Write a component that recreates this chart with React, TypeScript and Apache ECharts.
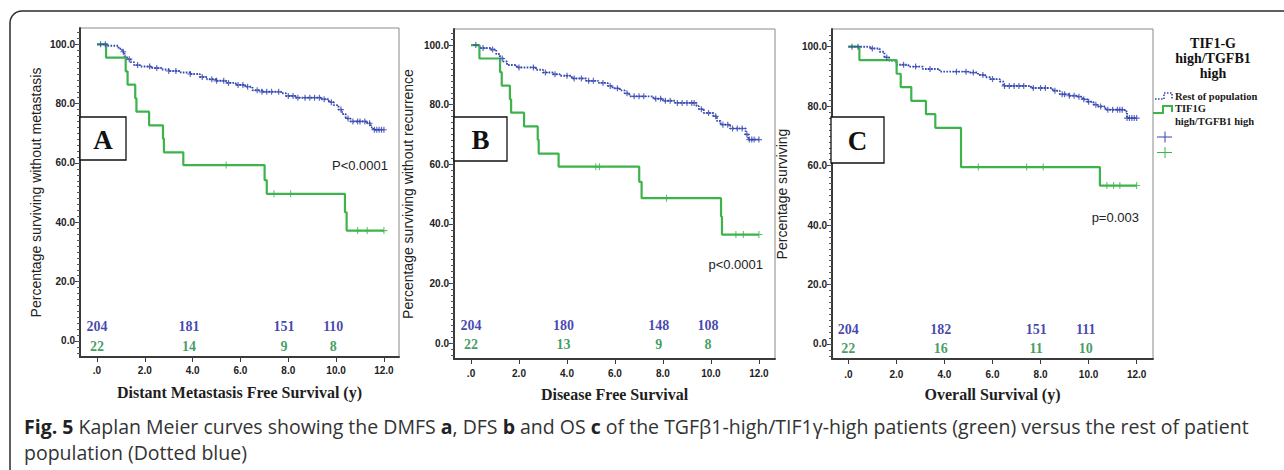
import React, { useEffect, useRef } from 'react';
import * as echarts from 'echarts';

type Pt = [number, number];

// ---------------- DATA ----------------
const timeTicks = [0, 2, 4, 6, 8, 10, 12];
const pctTicks = [0, 20, 40, 60, 80, 100];
const riskTimes = [0, 3.85, 7.82, 9.88];

// Panel A – Distant metastasis free survival
const dmfsRest: Pt[] = [
  [0, 100], [0.45, 99.5], [0.9, 98.5], [1.05, 97.5], [1.15, 96], [1.25, 95], [1.4, 94], [1.55, 93],
  [1.8, 92.5], [2.3, 92], [2.7, 91.5], [3.0, 91], [3.5, 90.5], [3.9, 90], [4.3, 89], [4.6, 88.2],
  [5.0, 87.7], [5.4, 87], [5.8, 86.3], [6.2, 85.7], [6.5, 84.5], [6.9, 84], [7.7, 83.5], [7.9, 82.6],
  [8.3, 82], [9.4, 81.5], [9.7, 80.5], [9.9, 79.5], [10.1, 78], [10.25, 76.5], [10.4, 75], [10.6, 74],
  [11.3, 73.4], [11.45, 72], [11.55, 71.2], [12.0, 71.2],
];
const dmfsHigh: Pt[] = [
  [0, 100], [0.38, 95.5], [1.2, 90.9], [1.28, 86.4], [1.6, 81.8], [1.65, 77.3], [2.18, 72.7],
  [2.76, 68.2], [2.8, 63.6], [3.61, 59.3], [7.01, 54.2], [7.1, 49.6], [10.37, 43.4], [10.44, 37.2], [12.0, 37.2],
];
const dmfsRestCensor = [0.15, 0.35, 1.1, 1.35, 1.7, 2.2, 2.5, 3.0, 3.3, 3.9, 4.4, 4.8, 5.0, 5.3, 5.5, 5.9, 6.1,
  6.3, 6.7, 6.9, 7.1, 7.3, 7.6, 8.0, 8.2, 8.4, 8.7, 8.9, 9.1, 9.3, 9.5, 9.8, 10.2, 10.5, 10.7, 10.9, 11.0,
  11.2, 11.4, 11.6, 11.7, 11.8, 11.9, 12.0];
const dmfsHighCensor = [5.4, 7.4, 8.1, 10.9, 11.3, 12.0];
const dmfsRiskRest = [204, 181, 151, 110];
const dmfsRiskHigh = [22, 14, 9, 8];

// Panel B – Disease free survival
const dfsRest: Pt[] = [
  [0, 100], [0.35, 99], [0.8, 98.5], [1.05, 97], [1.2, 95.5], [1.35, 94.5], [1.5, 93.3], [1.9, 92.5],
  [2.7, 91.7], [3.0, 90.8], [3.4, 90.2], [3.7, 89.7], [4.2, 88.8], [4.8, 88], [5.3, 87.3], [5.7, 86.3],
  [5.9, 85.5], [6.2, 84.8], [6.4, 83.8], [6.6, 82.8], [7.6, 82], [8.0, 81.3], [8.5, 80.6], [9.4, 79.5],
  [9.5, 78.5], [9.7, 77.2], [10.1, 76.1], [10.25, 74.5], [10.4, 73.3], [10.8, 72], [11.45, 70],
  [11.55, 68.3], [12.0, 68.3],
];
const dfsHigh: Pt[] = [
  [0, 100], [0.35, 95.5], [1.21, 90.9], [1.28, 86.4], [1.62, 81.8], [1.67, 77.3], [2.21, 72.7],
  [2.78, 68.2], [2.82, 63.6], [3.65, 59.2], [7.01, 54.1], [7.11, 48.6], [10.42, 42.5], [10.46, 36.4], [12.0, 36.4],
];
const dfsRestCensor = [0.2, 0.5, 0.9, 1.3, 2.0, 2.6, 3.1, 3.5, 4.0, 4.3, 4.6, 4.9, 5.1, 5.5, 5.8, 6.1, 6.5,
  6.8, 7.0, 7.2, 7.7, 7.9, 8.1, 8.3, 8.6, 8.8, 9.0, 9.2, 9.3, 9.6, 9.9, 10.2, 10.5, 10.7, 10.9, 11.1, 11.3,
  11.5, 11.6, 11.7, 11.8, 12.0];
const dfsHighCensor = [5.2, 5.35, 8.15, 11.04, 11.35, 12.0];
const dfsRiskRest = [204, 180, 148, 108];
const dfsRiskHigh = [22, 13, 9, 8];

// Panel C – Overall survival
const osRest: Pt[] = [
  [0, 100], [0.9, 99.4], [1.3, 98.3], [1.5, 96.4], [1.7, 95.3], [2.0, 93.9], [2.5, 93.3], [3.1, 92.5],
  [3.8, 91.6], [5.0, 91.3], [5.4, 90.5], [5.7, 89.7], [5.9, 89.1], [6.3, 88.3], [6.45, 86.8], [7.6, 86.1],
  [8.5, 85.2], [8.8, 84], [9.2, 83.5], [9.5, 83.2], [9.75, 82.3], [9.95, 81.5], [10.2, 80.5], [10.35, 79.9],
  [10.7, 78.8], [11.5, 78.2], [11.6, 76], [12.0, 76],
];
const osHigh: Pt[] = [
  [0, 100], [0.46, 95.5], [2.01, 90.9], [2.18, 86.4], [2.62, 81.8], [3.23, 77.3], [3.62, 72.7],
  [4.69, 59.5], [10.47, 53.3], [12.0, 53.3],
];
const osRestCensor = [0.15, 0.4, 1.0, 1.6, 2.3, 2.8, 3.4, 4.5, 4.9, 5.2, 5.6, 6.0, 6.5, 6.7, 6.9, 7.1, 7.3,
  7.7, 8.0, 8.2, 8.6, 8.9, 9.0, 9.2, 9.4, 9.6, 9.8, 10.0, 10.3, 10.5, 10.8, 11.0, 11.2, 11.3, 11.4, 11.6,
  11.7, 11.8, 11.9, 12.0];
const osHighCensor = [5.41, 7.42, 8.11, 10.76, 11.04, 11.3, 12.0];
const osRiskRest = [204, 182, 151, 111];
const osRiskHigh = [22, 16, 11, 10];

const panelLetters = ['A', 'B', 'C'];
const pValues = ['P<0.0001', 'p<0.0001', 'p=0.003'];
const xTitles = ['Distant Metastasis Free Survival (y)', 'Disease Free Survival', 'Overall Survival (y)'];
const yTitles = ['Percentage surviving without metastasis', 'Percentage surviving without recurrence', 'Percentage surviving'];
const legendTitle = 'TIF1-G\nhigh/TGFB1\nhigh';
const legendRest = 'Rest of population';
const legendHigh = 'TIF1G\nhigh/TGFB1 high';
const captionLine1 =
  '{b|Fig. 5} Kaplan Meier curves showing the DMFS {b|a}, DFS {b|b} and OS {b|c} of the TGFβ1-high/TIF1γ-high patients (green) versus the rest of patient';
const captionLine2 = 'population (Dotted blue)';

const panelsData = [
  { rest: dmfsRest, high: dmfsHigh, restC: dmfsRestCensor, highC: dmfsHighCensor, riskRest: dmfsRiskRest, riskHigh: dmfsRiskHigh },
  { rest: dfsRest, high: dfsHigh, restC: dfsRestCensor, highC: dfsHighCensor, riskRest: dfsRiskRest, riskHigh: dfsRiskHigh },
  { rest: osRest, high: osHigh, restC: osRestCensor, highC: osHighCensor, riskRest: osRiskRest, riskHigh: osRiskHigh },
];

// ---------------- LAYOUT / STYLE ----------------
const layout = [
  { left: 80, top: 28, width: 319, height: 329, xMin: -0.71, xMax: 12.63, yMin: -5.4, yMax: 105.5, yGap: 37, xLabMargin: 8, rowRest: 4.9, rowHigh: -1.8, box: [80, 117, 46, 43], p: [388, 165] },
  { left: 454, top: 29, width: 321, height: 330, xMin: -0.71, xMax: 12.67, yMin: -5.37, yMax: 105.4, yGap: 39, xLabMargin: 9, rowRest: 5.8, rowHigh: -0.4, box: [454, 117, 53, 44], p: [763, 264] },
  { left: 832, top: 29, width: 321, height: 330, xMin: -0.68, xMax: 12.68, yMin: -5.05, yMax: 105.95, yGap: 43, xLabMargin: 10, rowRest: 4.9, rowHigh: -1.45, box: [831, 117, 53, 46], p: [1139, 217] },
];

const BLUE = '#3447b0';
const GREEN = '#3cb44b';
const RISK_BLUE = '#15169a';
const RISK_GREEN = '#12863a';
const AXIS = '#3a3a3a';
const SANS = "'Liberation Sans', Arial, sans-serif";
const SERIF = "'Liberation Serif', 'Times New Roman', serif";
const CROSS = 'path://M5,0L5,10M0,5L10,5';

const minorTicks: number[] = [];
for (let v = -4; v <= 104; v += 2) minorTicks.push(v);

const valueAt = (curve: Pt[], t: number) => {
  let v = curve[0][1];
  for (const [x, y] of curve) {
    if (x <= t) v = y;
    else break;
  }
  return v;
};

function buildOption() {
  const grid: any[] = [];
  const xAxis: any[] = [];
  const yAxis: any[] = [];
  const series: any[] = [];
  const graphic: any[] = [];

  // outer frame
  graphic.push({
    type: 'rect', silent: true, z: -10,
    shape: { x: 10, y: 11, width: 1500, height: 700, r: 12 },
    style: { fill: 'none', stroke: '#2b2b2b', lineWidth: 1.5 },
  });

  layout.forEach((L, i) => {
    const d = panelsData[i];
    grid.push({
      left: L.left, top: L.top, width: L.width, height: L.height,
      show: true, borderColor: '#8a8a8a', borderWidth: 1, backgroundColor: 'transparent',
      outerBoundsMode: 'none',
    });
    xAxis.push({
      type: 'value', gridIndex: i, min: L.xMin, max: L.xMax, position: 'bottom',
      axisLine: { show: true, onZero: false, lineStyle: { color: AXIS, width: 2 } },
      axisTick: { show: true, customValues: timeTicks, length: 5, lineStyle: { color: AXIS, width: 1 } },
      axisLabel: {
        customValues: timeTicks, margin: L.xLabMargin,
        formatter: (v: number) => (v === 0 ? '.0' : v.toFixed(1)),
        fontFamily: SANS, fontSize: 10, fontWeight: 'bold', color: '#222',
      },
      splitLine: { show: false },
      name: xTitles[i], nameLocation: 'middle', nameGap: 27,
      nameTextStyle: { fontFamily: SERIF, fontSize: 16, fontWeight: 'bold', color: '#1e1e1e' },
    });
    yAxis.push({
      type: 'value', gridIndex: i, min: L.yMin, max: L.yMax, position: 'left', offset: 0,
      axisLine: { show: true, onZero: false, lineStyle: { color: AXIS, width: 2 } },
      axisTick: { show: true, customValues: pctTicks, length: 5, lineStyle: { color: AXIS, width: 1 } },
      axisLabel: {
        customValues: pctTicks, margin: 5,
        formatter: (v: number) => v.toFixed(1),
        fontFamily: SANS, fontSize: 10, fontWeight: 'bold', color: '#222',
      },
      splitLine: { show: false },
      name: yTitles[i], nameLocation: 'middle', nameGap: L.yGap,
      nameTextStyle: { fontFamily: SANS, fontSize: 14, color: '#222' },
    });
    yAxis.push({
      type: 'value', gridIndex: i, min: L.yMin, max: L.yMax, position: 'left', offset: 0,
      axisLine: { show: false, onZero: false },
      axisTick: { show: true, customValues: minorTicks, length: 3, lineStyle: { color: '#555', width: 1 } },
      axisLabel: { show: false },
      splitLine: { show: false },
    });

    const yi = i * 2;
    series.push({
      type: 'line', name: 'Rest of population', xAxisIndex: i, yAxisIndex: yi, step: 'end',
      symbol: 'none', silent: true, data: d.rest,
      lineStyle: { color: BLUE, width: 1.9, type: [1.6, 1.4] }, z: 3,
    });
    series.push({
      type: 'line', name: 'TIF1G high/TGFB1 high', xAxisIndex: i, yAxisIndex: yi, step: 'end',
      symbol: 'none', silent: true, data: d.high,
      lineStyle: { color: GREEN, width: 2.2 }, z: 4,
    });
    series.push({
      type: 'scatter', xAxisIndex: i, yAxisIndex: yi, symbol: CROSS, symbolSize: 6, silent: true,
      data: d.restC.map((t) => [t, valueAt(d.rest, t)]),
      itemStyle: { color: BLUE, borderColor: BLUE, borderWidth: 1.2 }, z: 5,
    });
    series.push({
      type: 'scatter', xAxisIndex: i, yAxisIndex: yi, symbol: CROSS, symbolSize: 7, silent: true,
      data: d.highC.map((t) => [t, valueAt(d.high, t)]),
      itemStyle: { color: GREEN, borderColor: GREEN, borderWidth: 1.1 }, z: 5,
    });
    const riskLabel = (color: string) => ({
      show: true, position: 'inside', formatter: (p: any) => String(p.value[2]),
      fontFamily: SERIF, fontWeight: 'bold', fontSize: 14, color,
    });
    series.push({
      type: 'scatter', xAxisIndex: i, yAxisIndex: yi, symbol: 'circle', symbolSize: 1, silent: true,
      itemStyle: { color: 'transparent' },
      data: riskTimes.map((t, k) => [t, L.rowRest, d.riskRest[k]]),
      label: riskLabel(RISK_BLUE),
    });
    series.push({
      type: 'scatter', xAxisIndex: i, yAxisIndex: yi, symbol: 'circle', symbolSize: 1, silent: true,
      itemStyle: { color: 'transparent' },
      data: riskTimes.map((t, k) => [t, L.rowHigh, d.riskHigh[k]]),
      label: riskLabel(RISK_GREEN),
    });

    // panel letter box
    const [bx, by, bw, bh] = L.box;
    graphic.push({
      type: 'rect', silent: true, z: 20,
      shape: { x: bx, y: by, width: bw, height: bh },
      style: { fill: '#fff', stroke: '#111', lineWidth: 1.3 },
    });
    graphic.push({
      type: 'text', silent: true, z: 21, x: bx + bw / 2, y: by + bh / 2 + 1,
      style: { text: panelLetters[i], align: 'center', verticalAlign: 'middle', fontFamily: SERIF, fontWeight: 'bold', fontSize: 27, fill: '#111' },
    });
    // p value
    graphic.push({
      type: 'text', silent: true, z: 21, x: L.p[0], y: L.p[1],
      style: { text: pValues[i], align: 'right', verticalAlign: 'middle', fontFamily: SANS, fontSize: 13, fill: '#222' },
    });
  });

  // legend
  graphic.push({
    type: 'text', silent: true, x: 1213, y: 36,
    style: { text: legendTitle, align: 'center', verticalAlign: 'top', fontFamily: SERIF, fontWeight: 'bold', fontSize: 14, lineHeight: 15, fill: '#111' },
  });
  graphic.push({
    type: 'polyline', silent: true,
    shape: { points: [[1155, 99], [1164, 99], [1164, 93], [1172, 93], [1172, 99]] },
    style: { stroke: BLUE, lineWidth: 1.6, lineDash: [1.5, 1.5], fill: 'none' },
  });
  graphic.push({
    type: 'text', silent: true, x: 1175, y: 96,
    style: { text: legendRest, align: 'left', verticalAlign: 'middle', fontFamily: SERIF, fontWeight: 'bold', fontSize: 10.5, fill: '#1a1a1a' },
  });
  graphic.push({
    type: 'polyline', silent: true,
    shape: { points: [[1153, 113], [1163, 113], [1163, 106], [1172, 106], [1172, 112]] },
    style: { stroke: GREEN, lineWidth: 2, fill: 'none' },
  });
  graphic.push({
    type: 'text', silent: true, x: 1175, y: 102,
    style: { text: legendHigh, align: 'left', verticalAlign: 'top', fontFamily: SERIF, fontWeight: 'bold', fontSize: 10.5, lineHeight: 13, fill: '#1a1a1a' },
  });
  [[137, BLUE], [152.5, GREEN]].forEach(([cy, col]: any) => {
    graphic.push({ type: 'line', silent: true, shape: { x1: 1157, y1: cy, x2: 1172, y2: cy }, style: { stroke: col, lineWidth: 1 } });
    graphic.push({ type: 'line', silent: true, shape: { x1: 1165, y1: cy - 5.5, x2: 1165, y2: cy + 5.5 }, style: { stroke: col, lineWidth: 1 } });
  });

  // caption
  const capFont = "'Open Sans', 'Noto Sans', sans-serif";
  const capSize = 19.5;
  graphic.push({
    type: 'text', silent: true, x: 24, y: 426,
    style: {
      text: captionLine1, align: 'left', verticalAlign: 'middle',
      fontFamily: capFont, fontSize: capSize, fill: '#333',
      rich: { b: { fontFamily: capFont, fontSize: capSize, fontWeight: 'bold', fill: '#222', color: '#222' } },
    },
  });
  graphic.push({
    type: 'text', silent: true, x: 24, y: 452,
    style: { text: captionLine2, align: 'left', verticalAlign: 'middle', fontFamily: capFont, fontSize: capSize, fill: '#333' },
  });

  return {
    animation: false,
    backgroundColor: '#ffffff',
    grid, xAxis, yAxis, series, graphic,
  };
}

export default function App() {
  const ref = useRef<HTMLDivElement>(null);
  useEffect(() => {
    if (!ref.current) return;
    const chart = echarts.init(ref.current, undefined, { renderer: 'svg' });
    chart.setOption(buildOption() as any);
    return () => chart.dispose();
  }, []);
  return (
    <div
      ref={ref}
      style={{ position: 'fixed', left: 0, top: 0, width: 1284, height: 470, background: '#fff' }}
    />
  );
}
